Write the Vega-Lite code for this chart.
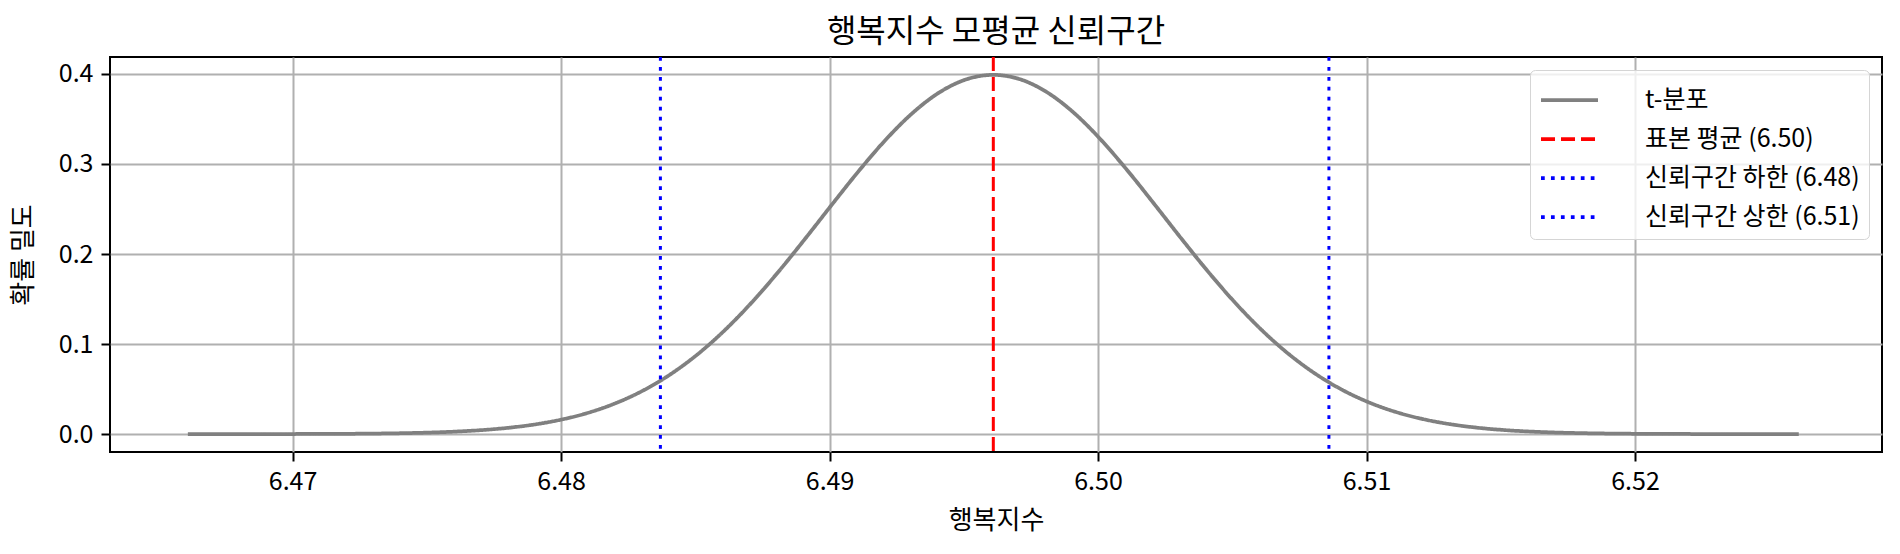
{
  "$schema": "https://vega.github.io/schema/vega-lite/v6.json",
  "autosize": "none",
  "width": 1772,
  "height": 395,
  "padding": {"left": 110, "top": 57, "right": 18, "bottom": 102},
  "background": "white",
  "title": {
    "text": "행복지수 모평균 신뢰구간",
    "font": "Noto Sans CJK KR",
    "fontSize": 32,
    "fontWeight": "normal",
    "color": "black",
    "anchor": "middle",
    "baseline": "bottom",
    "offset": 10,
    "dy": 35
  },
  "config": {
    "font": "Noto Sans CJK KR",
    "view": {"stroke": "black", "strokeWidth": 2},
    "axis": {
      "domain": false,
      "grid": true,
      "gridColor": "#b0b0b0",
      "gridWidth": 2,
      "tickColor": "black",
      "tickWidth": 2,
      "tickSize": 9,
      "labelPadding": 8,
      "labelFont": "Noto Sans CJK KR",
      "labelFontSize": 25,
      "labelColor": "black",
      "titleFont": "Noto Sans CJK KR",
      "titleFontSize": 26,
      "titleFontWeight": "normal",
      "titleColor": "black"
    },
    "legend": {
      "orient": "top-right",
      "offset": 13,
      "padding": 9,
      "fillColor": "rgba(255,255,255,0.8)",
      "strokeColor": "#d5d5d5",
      "cornerRadius": 5,
      "symbolType": "M-1,0H2",
      "symbolSize": 1444,
      "symbolStrokeWidth": 3.75,
      "labelFont": "Noto Sans CJK KR",
      "labelFontSize": 25,
      "labelColor": "black",
      "labelOffset": 64,
      "labelLimit": 0,
      "rowPadding": 5,
      "title": null
    }
  },
  "datasets": {
    "curve": [
      {"x": 6.4661, "y": 0.00001, "label": "t-분포"},
      {"x": 6.4671, "y": 0.00001, "label": "t-분포"},
      {"x": 6.4681, "y": 0.00002, "label": "t-분포"},
      {"x": 6.4691, "y": 0.00005, "label": "t-분포"},
      {"x": 6.4701, "y": 0.00009, "label": "t-분포"},
      {"x": 6.4711, "y": 0.00017, "label": "t-분포"},
      {"x": 6.4721, "y": 0.00032, "label": "t-분포"},
      {"x": 6.4731, "y": 0.00057, "label": "t-분포"},
      {"x": 6.4741, "y": 0.00099, "label": "t-분포"},
      {"x": 6.4751, "y": 0.00168, "label": "t-분포"},
      {"x": 6.4761, "y": 0.00280, "label": "t-분포"},
      {"x": 6.4771, "y": 0.00454, "label": "t-분포"},
      {"x": 6.4781, "y": 0.00718, "label": "t-분포"},
      {"x": 6.4791, "y": 0.01108, "label": "t-분포"},
      {"x": 6.4801, "y": 0.01668, "label": "t-분포"},
      {"x": 6.4811, "y": 0.02450, "label": "t-분포"},
      {"x": 6.4821, "y": 0.03511, "label": "t-분포"},
      {"x": 6.4831, "y": 0.04907, "label": "t-분포"},
      {"x": 6.4841, "y": 0.06690, "label": "t-분포"},
      {"x": 6.4851, "y": 0.08898, "label": "t-분포"},
      {"x": 6.4861, "y": 0.11545, "label": "t-분포"},
      {"x": 6.4871, "y": 0.14612, "label": "t-분포"},
      {"x": 6.4881, "y": 0.18041, "label": "t-분포"},
      {"x": 6.4891, "y": 0.21729, "label": "t-분포"},
      {"x": 6.4901, "y": 0.25530, "label": "t-분포"},
      {"x": 6.4911, "y": 0.29261, "label": "t-분포"},
      {"x": 6.4921, "y": 0.32715, "label": "t-분포"},
      {"x": 6.4931, "y": 0.35682, "label": "t-분포"},
      {"x": 6.4941, "y": 0.37964, "label": "t-분포"},
      {"x": 6.4951, "y": 0.39403, "label": "t-분포"},
      {"x": 6.4961, "y": 0.39894, "label": "t-분포"},
      {"x": 6.4971, "y": 0.39403, "label": "t-분포"},
      {"x": 6.4981, "y": 0.37964, "label": "t-분포"},
      {"x": 6.4991, "y": 0.35682, "label": "t-분포"},
      {"x": 6.5001, "y": 0.32715, "label": "t-분포"},
      {"x": 6.5011, "y": 0.29261, "label": "t-분포"},
      {"x": 6.5021, "y": 0.25530, "label": "t-분포"},
      {"x": 6.5031, "y": 0.21729, "label": "t-분포"},
      {"x": 6.5041, "y": 0.18041, "label": "t-분포"},
      {"x": 6.5051, "y": 0.14612, "label": "t-분포"},
      {"x": 6.5061, "y": 0.11545, "label": "t-분포"},
      {"x": 6.5071, "y": 0.08898, "label": "t-분포"},
      {"x": 6.5081, "y": 0.06690, "label": "t-분포"},
      {"x": 6.5091, "y": 0.04907, "label": "t-분포"},
      {"x": 6.5101, "y": 0.03511, "label": "t-분포"},
      {"x": 6.5111, "y": 0.02450, "label": "t-분포"},
      {"x": 6.5121, "y": 0.01668, "label": "t-분포"},
      {"x": 6.5131, "y": 0.01108, "label": "t-분포"},
      {"x": 6.5141, "y": 0.00718, "label": "t-분포"},
      {"x": 6.5151, "y": 0.00454, "label": "t-분포"},
      {"x": 6.5161, "y": 0.00280, "label": "t-분포"},
      {"x": 6.5171, "y": 0.00168, "label": "t-분포"},
      {"x": 6.5181, "y": 0.00099, "label": "t-분포"},
      {"x": 6.5191, "y": 0.00057, "label": "t-분포"},
      {"x": 6.5201, "y": 0.00032, "label": "t-분포"},
      {"x": 6.5211, "y": 0.00017, "label": "t-분포"},
      {"x": 6.5221, "y": 0.00009, "label": "t-분포"},
      {"x": 6.5231, "y": 0.00005, "label": "t-분포"},
      {"x": 6.5241, "y": 0.00002, "label": "t-분포"},
      {"x": 6.5251, "y": 0.00001, "label": "t-분포"},
      {"x": 6.5261, "y": 0.00001, "label": "t-분포"}
    ],
    "lines": [
      {"x": 6.4961, "label": "표본 평균 (6.50)"},
      {"x": 6.4837, "label": "신뢰구간 하한 (6.48)"},
      {"x": 6.5086, "label": "신뢰구간 상한 (6.51)"}
    ]
  },
  "layer": [
    {
      "data": {"name": "curve"},
      "mark": {"type": "line", "strokeWidth": 3.75, "interpolate": "monotone", "clip": true},
      "encoding": {
        "x": {
          "field": "x", "type": "quantitative",
          "scale": {"domain": [6.4632, 6.5292], "nice": false, "zero": false},
          "axis": {"values": [6.47, 6.48, 6.49, 6.50, 6.51, 6.52], "format": ".2f", "title": "행복지수", "titlePadding": 13}
        },
        "y": {
          "field": "y", "type": "quantitative",
          "scale": {"domain": [-0.0199, 0.4188], "nice": false, "zero": false},
          "axis": {"values": [0, 0.1, 0.2, 0.3, 0.4], "format": ".1f", "title": "확률 밀도", "titlePadding": 22}
        },
        "color": {
          "field": "label", "type": "nominal",
          "scale": {
            "domain": ["t-분포", "표본 평균 (6.50)", "신뢰구간 하한 (6.48)", "신뢰구간 상한 (6.51)"],
            "range": ["gray", "red", "blue", "blue"]
          }
        },
        "strokeDash": {
          "field": "label", "type": "nominal",
          "scale": {
            "domain": ["t-분포", "표본 평균 (6.50)", "신뢰구간 하한 (6.48)", "신뢰구간 상한 (6.51)"],
            "range": [[1, 0], [14, 6], [3.75, 6.2], [3.75, 6.2]]
          }
        }
      }
    },
    {
      "data": {"name": "lines"},
      "mark": {"type": "rule", "strokeWidth": 3},
      "encoding": {
        "x": {"field": "x", "type": "quantitative"},
        "color": {"field": "label", "type": "nominal"},
        "strokeDash": {"field": "label", "type": "nominal"}
      }
    }
  ]
}
